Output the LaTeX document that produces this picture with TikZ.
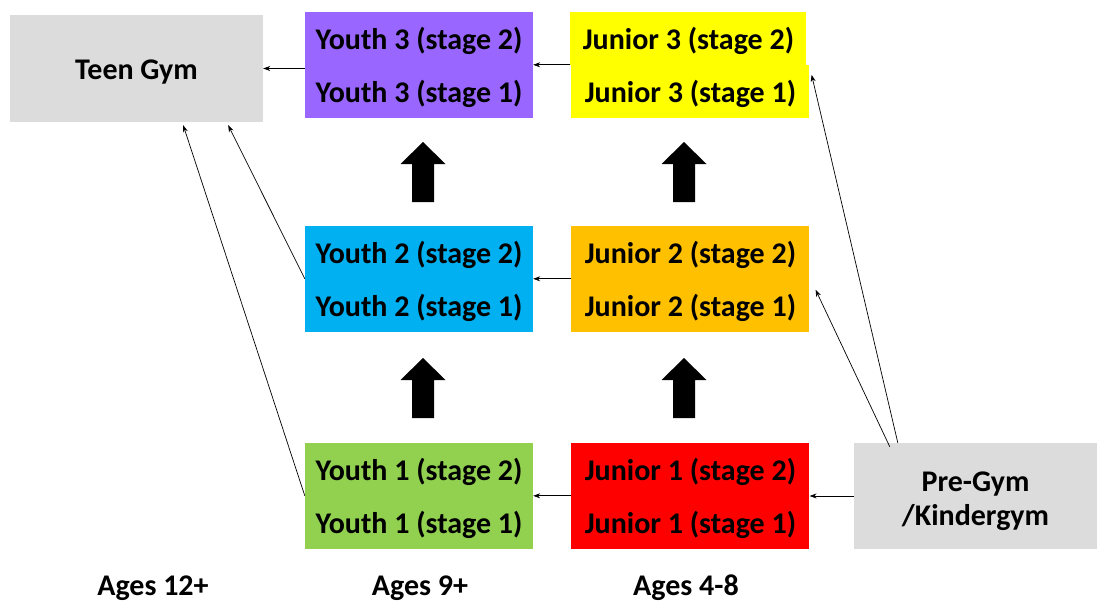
\documentclass[tikz,border=0pt]{standalone}
\usepackage{fontspec}
\setmainfont{Carlito}
\usetikzlibrary{arrows.meta, positioning, calc}
\definecolor{gymgrey}{HTML}{DCDCDC}
\definecolor{youthpurple}{HTML}{9966FF}
\definecolor{youthblue}{HTML}{00B0F0}
\definecolor{youthgreen}{HTML}{92D050}
\definecolor{junioryellow}{HTML}{FFFF00}
\definecolor{juniororange}{HTML}{FFC000}
\definecolor{juniorred}{HTML}{FF0000}

\begin{document}
\begin{tikzpicture}[x=1pt, y=-1pt,
    stagebox/.style={minimum width=228pt, minimum height=53pt, inner sep=0pt,
                     text height=26pt, text depth=4pt,
                     font=\fontsize{30}{34}\selectfont\bfseries},
    youth/.style={stagebox},
    junior/.style={stagebox, minimum width=238pt},
    gym/.style={stagebox, fill=gymgrey, align=center,
                font=\fontsize{30}{34}\selectfont\bfseries},
    agelbl/.style={font=\fontsize{30}{34}\selectfont\bfseries, inner sep=0pt},
    arr/.style={-{Stealth[length=7pt, width=5pt]}, line width=0.7pt}]
  \useasboundingbox (0,0) rectangle (1098,602);
  % youth column
  \node[youth, fill=youthpurple] (y3b) at (419,91.5) {Youth 3 (stage 1)};
  \node[youth, fill=youthpurple, above=0pt of y3b] (y3a) {Youth 3 (stage 2)};
  \node[youth, fill=youthblue] (y2b) at (419,305.5) {Youth 2 (stage 1)};
  \node[youth, fill=youthblue, above=0pt of y2b] (y2a) {Youth 2 (stage 2)};
  \node[youth, fill=youthgreen] (y1b) at (419,522.5) {Youth 1 (stage 1)};
  \node[youth, fill=youthgreen, above=0pt of y1b] (y1a) {Youth 1 (stage 2)};
  % junior column
  \node[junior, fill=junioryellow, right=38pt of y3b] (j3b) {Junior 3 (stage 1)};
  \node[junior, fill=junioryellow, above=0pt of j3b, xshift=-2pt, minimum width=236pt] (j3a) {Junior 3 (stage 2)};
  \node[junior, fill=juniororange, right=38pt of y2b] (j2b) {Junior 2 (stage 1)};
  \node[junior, fill=juniororange, above=0pt of j2b] (j2a) {Junior 2 (stage 2)};
  \node[junior, fill=juniorred, right=38pt of y1b] (j1b) {Junior 1 (stage 1)};
  \node[junior, fill=juniorred, above=0pt of j1b] (j1a) {Junior 1 (stage 2)};
  % entry and exit
  \node[gym, minimum width=253pt, minimum height=107pt] (teen) at (136.5,68.5) {Teen Gym};
  \node[gym, minimum width=243pt, minimum height=106pt, text height=64pt, text depth=6pt] (pre) at (975.5,496) {Pre-Gym\\/Kindergym};
  % ages
  \node[agelbl] (age12) at (153,588) {Ages 12+};
  \node[agelbl] (age9) at (420,588) {Ages 9+};
  \node[agelbl] (age4) at (686,588) {Ages 4-8};
  % block arrows up the levels
  \foreach \x/\y in {423/172, 684/172, 423/388, 684/388}
    \fill[shift={(\x,\y)}] (-11,30) -- (-11,-8) -- (-22.5,-8) -- (0,-30)
      -- (22.5,-8) -- (11,-8) -- (11,30) -- cycle;
  % moves between groups
  \draw[arr] (teen.east -| y3a.west) -- (teen.east);
  \draw[arr] (j3a.south west) -- (y3a.south east);
  \draw[arr] (j2a.south west) -- (y2a.south east);
  \draw[arr] (j1a.south west) -- (y1a.south east);
  \draw[arr] (pre.west) -- (pre.west -| j1a.east);
  \draw[arr] (y2a.south west) -- ($(teen.south east)+(-35,3)$);
  \draw[arr] (y1a.south west) -- ($(teen.south east)+(-80,3)$);
  \draw[arr] ($(pre.north west)+(36,4)$) -- ($(j2b.north east)+(6,11)$);
  \draw[arr] ($(pre.north west)+(44,0)$) -- ($(j3b.north east)+(2,10)$);
\end{tikzpicture}
\end{document}
